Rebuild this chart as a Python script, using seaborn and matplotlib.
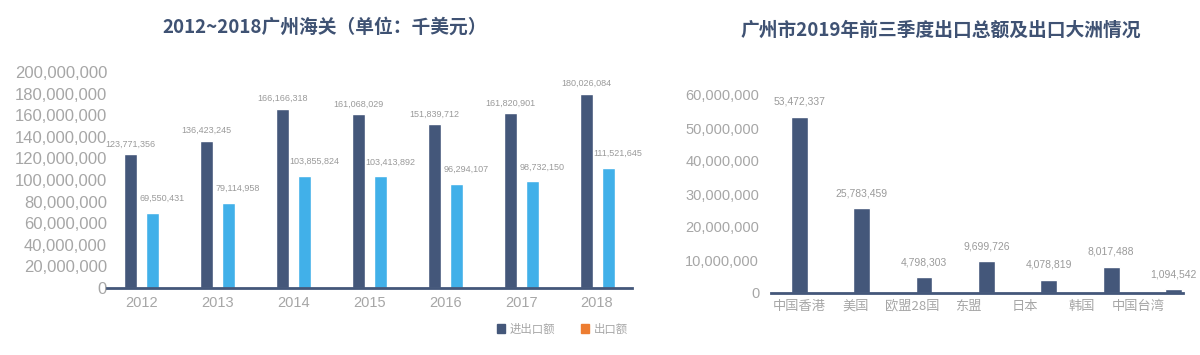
import numpy as np
import pandas as pd
import matplotlib
matplotlib.use("Agg")
import matplotlib.pyplot as plt
from matplotlib.patches import Patch
from matplotlib.ticker import FuncFormatter
import seaborn as sns

# ==============================
# Data
# ==============================
years = ["2012", "2013", "2014", "2015", "2016", "2017", "2018"]
total_trade = [123771356, 136423245, 166166318, 161068029, 151839712, 161820901, 180026084]
export_trade = [69550431, 79114958, 103855824, 103413892, 96294107, 98732150, 111521645]

regions = ["中国香港", "美国", "欧盟28国", "东盟", "日本", "韩国", "中国台湾"]
region_values = [53472337, 25783459, 4798303, 9699726, 4078819, 8017488, 1094542]

series_names = ["进出口额", "出口额"]

df = pd.DataFrame({
    "year": years * 2,
    "value": total_trade + export_trade,
    "series": [series_names[0]] * len(years) + [series_names[1]] * len(years),
})
df_region = pd.DataFrame({"region": regions, "value": region_values})

# ==============================
# Style
# ==============================
sns.set_theme(style="white")
plt.rcParams["font.family"] = ["Liberation Sans", "Noto Sans CJK SC", "DejaVu Sans"]

dark = "#44577A"
light = "#41B0E9"
orange = "#ED7D31"
gray = "#A6A6A6"
label_gray = "#9A9A9A"
title_color = "#3F5273"

fmt = FuncFormatter(lambda v, p: f"{v:,.0f}")

fig = plt.figure(figsize=(12, 3.55), dpi=100)

# ==============================
# Left chart: 2012~2018
# ==============================
ax1 = fig.add_axes([107 / 1200, 67 / 355, 525 / 1200, 216 / 355])
sns.barplot(data=df, x="year", y="value", hue="series",
            palette={series_names[0]: dark, series_names[1]: light},
            width=0.58, gap=0.41, ax=ax1, legend=False, saturation=1)
ax1.set_ylim(0, 200_000_000)
ax1.set_yticks(np.arange(0, 200_000_001, 20_000_000))
ax1.set_xlim(-0.45, 6.46)
ax1.yaxis.set_major_formatter(fmt)
ax1.set_xlabel("")
ax1.set_ylabel("")
ax1.tick_params(axis="y", labelsize=12, colors=gray, length=0, pad=0)
ax1.tick_params(axis="x", labelsize=10.5, colors=gray, length=0, pad=6)

ax1.bar_label(ax1.containers[0], labels=[f"{v:,}" for v in total_trade],
              padding=4, fontsize=6.5, color=label_gray)
light_labels = ax1.bar_label(ax1.containers[1], labels=[f"{v:,}" for v in export_trade],
                             padding=7, fontsize=6.5, color=label_gray)
# export labels sit a little to the right of their bars
for t in light_labels:
    t.xyann = (7, 7)

sns.despine(ax=ax1, left=True)
ax1.spines["bottom"].set_color(dark)
ax1.spines["bottom"].set_linewidth(2)

fig.text(325 / 1200, 1 - 27 / 355, "2012~2018广州海关（单位：千美元）",
         ha="center", va="center", fontsize=13.5, fontweight="bold",
         color=title_color, family=["Noto Sans CJK SC", "DejaVu Sans"])

handles = [Patch(color=dark), Patch(color=orange)]
fig.legend(handles, series_names, loc="center right",
           bbox_to_anchor=(638 / 1200, 1 - 329 / 355), ncol=2, frameon=False,
           fontsize=8.2, handlelength=0.75, handleheight=0.75, handletextpad=0.4,
           columnspacing=2.2, labelcolor=gray)

# ==============================
# Right chart: 2019 regions
# ==============================
ax2 = fig.add_axes([771 / 1200, 62 / 355, 412 / 1200, 198 / 355])
sns.barplot(data=df_region, x="region", y="value", color=dark,
            width=0.27, ax=ax2, saturation=1)
ax2.set_ylim(0, 60_000_000)
ax2.set_yticks(np.arange(0, 60_000_001, 10_000_000))
ax2.set_xlim(-0.45, 6.15)
ax2.yaxis.set_major_formatter(fmt)
ax2.set_xticks(np.arange(len(regions)) * 0.905, regions)
ax2.set_xlabel("")
ax2.set_ylabel("")
ax2.tick_params(axis="y", labelsize=10.5, colors=gray, length=0, pad=8.5)
ax2.tick_params(axis="x", labelsize=9.5, colors=gray, length=0, pad=5)
for t in ax2.get_xticklabels():
    t.set_family(["Noto Sans CJK SC", "DejaVu Sans"])

ax2.bar_label(ax2.containers[0], labels=[f"{v:,}" for v in region_values],
              padding=7, fontsize=7.5, color=label_gray)

sns.despine(ax=ax2, left=True)
ax2.spines["bottom"].set_color(dark)
ax2.spines["bottom"].set_linewidth(2)

fig.text(941 / 1200, 1 - 30 / 355, "广州市2019年前三季度出口总额及出口大洲情况",
         ha="center", va="center", fontsize=13.5, fontweight="bold",
         color=title_color, family=["Noto Sans CJK SC", "DejaVu Sans"])

fig.savefig("out.png", dpi=100, facecolor="white")
